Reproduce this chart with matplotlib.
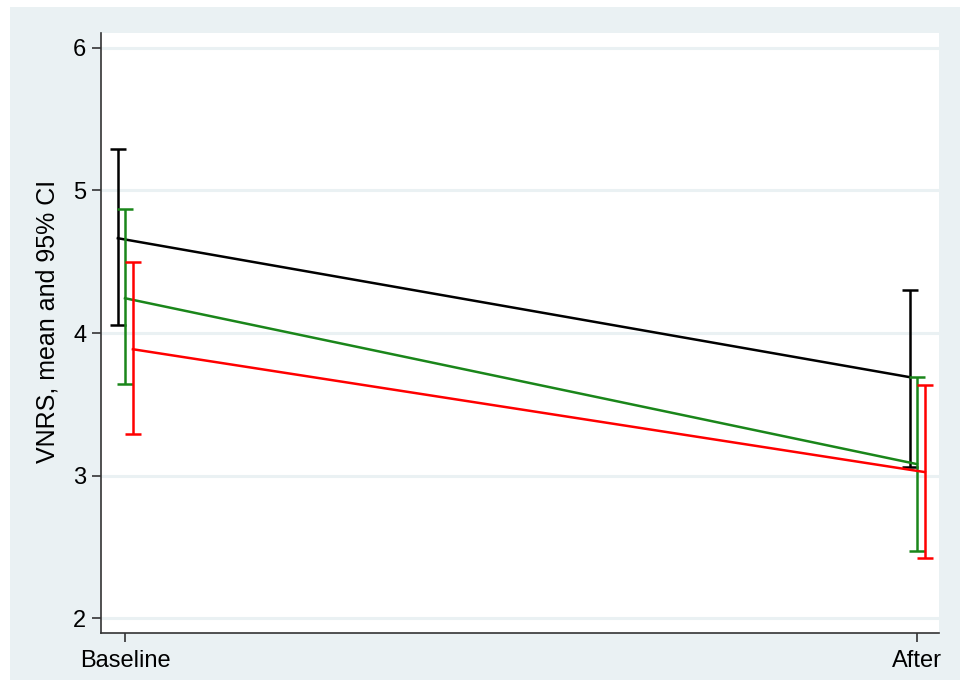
import matplotlib
matplotlib.use("Agg")
import matplotlib.pyplot as plt
from matplotlib.patches import Rectangle

plt.rcParams['font.family'] = ['Liberation Sans', 'DejaVu Sans']

categories = ["Baseline", "After"]
offsets = [-0.009, 0.0, 0.010]
colors = ["black", "#1A861A", "#FF0000"]

black_mean = [4.665, 3.69]
black_lo = [4.055, 3.06]
black_hi = [5.29, 4.30]

green_mean = [4.244, 3.08]
green_lo = [3.641, 2.47]
green_hi = [4.868, 3.69]

red_mean = [3.886, 3.024]
red_lo = [3.29, 2.42]
red_hi = [4.497, 3.634]

series = [(black_mean, black_lo, black_hi),
          (green_mean, green_lo, green_hi),
          (red_mean, red_lo, red_hi)]

W, H = 960, 680
fig = plt.figure(figsize=(W / 100, H / 100), dpi=100)
fig.patch.set_facecolor("white")
bg = "#EAF1F3"
fig.patches.append(Rectangle((10 / W, 0), (W - 10) / W, (H - 7) / H,
                             transform=fig.transFigure, facecolor=bg,
                             edgecolor="none", zorder=-10))

ax = fig.add_axes([101 / W, (H - 633) / H, (939 - 101) / W, (633 - 33) / H])
ax.set_facecolor("white")

for (m, lo, hi), off, c in zip(series, offsets, colors):
    xs = [i + off for i in range(len(categories))]
    ax.plot(xs, m, color=c, lw=1.8, zorder=3)
    yerr = [[mm - l for mm, l in zip(m, lo)], [h - mm for mm, h in zip(m, hi)]]
    ax.errorbar(xs, m, yerr=yerr, fmt="none", ecolor=c, elinewidth=1.8,
                capsize=6, capthick=1.8, zorder=3)

ax.set_xlim(-0.0303, 1.0278)
ax.set_ylim(1.895, 6.105)
ax.set_yticks([2, 3, 4, 5, 6])
ax.set_xticks([0, 1])
ax.set_xticklabels(categories)
ax.yaxis.grid(True, color=bg, lw=2.2, zorder=0)
ax.set_axisbelow(True)
for s in ["top", "right"]:
    ax.spines[s].set_visible(False)
for s in ["left", "bottom"]:
    ax.spines[s].set_color("#333333")
    ax.spines[s].set_linewidth(1.2)
ax.tick_params(axis="both", labelsize=17, color="#333333", width=1.2, length=6.5, pad=4)
ax.tick_params(axis="x", pad=6)
ax.set_ylabel("VNRS, mean and 95% CI", fontsize=18)
ax.yaxis.set_label_coords(-0.05, 0.52)

fig.savefig("out.png", dpi=100, facecolor=fig.get_facecolor())
